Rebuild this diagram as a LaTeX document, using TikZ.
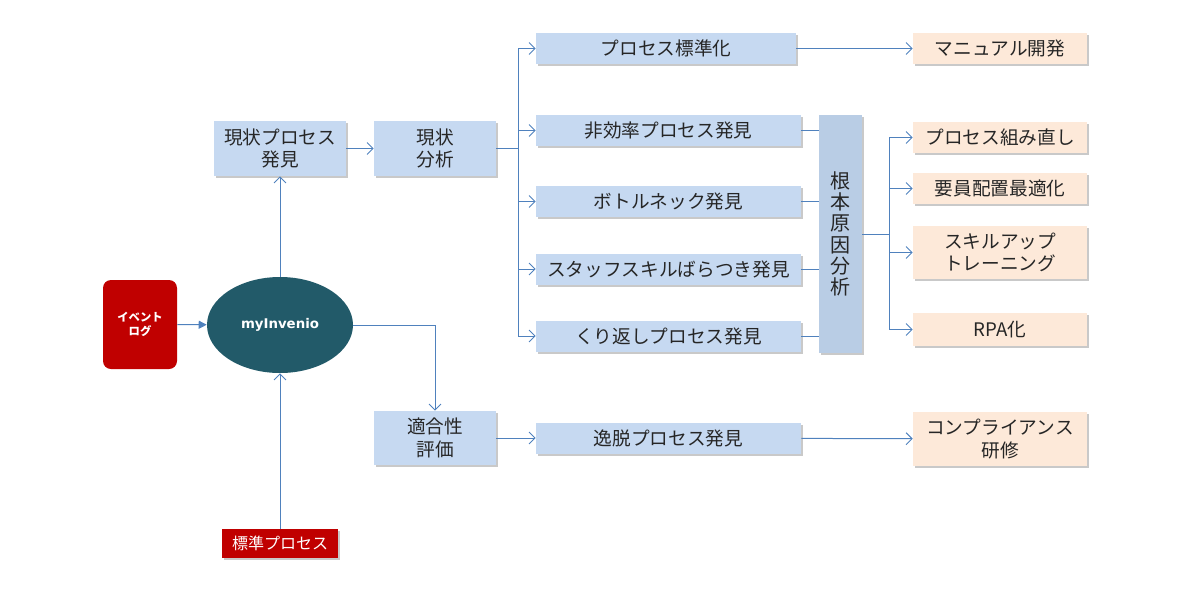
\documentclass[tikz,border=0pt]{standalone}
\usepackage{fontspec}
\setmainfont{Noto Sans CJK JP}
\newfontfamily\latinfont{DejaVu Sans}
\usepackage{xcolor}
\usetikzlibrary{arrows.meta,shadows,shapes.geometric}

\definecolor{boxblue}{HTML}{C6D9F1}
\definecolor{rootblue}{HTML}{B9CDE5}
\definecolor{boxpeach}{HTML}{FDE9D9}
\definecolor{linkblue}{HTML}{4F81BD}
\definecolor{logred}{HTML}{C00000}
\definecolor{engteal}{HTML}{225A69}

\tikzset{
  card/.style={inner sep=0pt, align=center, text=black!85,
    font=\fontsize{14pt}{17pt}\selectfont,
    drop shadow={shadow xshift=1.8pt, shadow yshift=-1.8pt, opacity=0.3, fill=black!70}},
  bluecard/.style={card, fill=boxblue},
  peachcard/.style={card, fill=boxpeach},
  link/.style={draw=linkblue, line width=0.75pt,
    -{Straight Barb[length=4.5pt, width=9pt, line width=0.75pt]}},
  wire/.style={draw=linkblue, line width=0.75pt},
}

\begin{document}
\begin{tikzpicture}[x=0.75pt, y=-0.75pt]
  \useasboundingbox (0,0) rectangle (1200,600);

  % --- sources and engine ------------------------------------------------
  \node[fill=logred, rounded corners=6pt, minimum width=55.5pt, minimum height=66.75pt,
        inner sep=0pt, align=center, text=white,
        font=\fontsize{8.5pt}{11pt}\selectfont\bfseries] (evlog) at (140,324.5) {イベント\\ログ};
  \node[ellipse, fill=engteal, minimum width=109.5pt, minimum height=72pt, inner sep=0pt,
        text=white, font=\latinfont\fontsize{10pt}{12pt}\selectfont\bfseries] (engine) at (280,325) {myInvenio};
  \node[card, fill=logred, text=white, minimum width=87pt, minimum height=21.75pt,
        font=\fontsize{12pt}{14pt}\selectfont] (stdproc) at (280,543.5) {標準プロセス};

  % --- analysis steps ---------------------------------------------------
  \node[bluecard, minimum width=99pt, minimum height=41.25pt] (discover) at (280,148.5) {現状プロセス\\発見};
  \node[bluecard, minimum width=91.5pt, minimum height=41.25pt] (asis) at (435,148.5) {現状\\分析};
  \node[bluecard, minimum width=91.5pt, minimum height=40.5pt] (conform) at (435,438) {適合性\\評価};

  % --- findings column --------------------------------------------------
  \node[bluecard, minimum width=195pt, minimum height=23.25pt] (standard) at (666,48.5) {プロセス標準化};
  \node[bluecard, minimum width=198.75pt, minimum height=23.25pt] (ineff) at (668.5,130.5) {非効率プロセス発見};
  \node[bluecard, minimum width=198.75pt, minimum height=23.25pt] (bneck) at (668.5,201.5) {ボトルネック発見};
  \node[bluecard, minimum width=198.75pt, minimum height=23.25pt] (skillvar) at (668.5,269) {スタッフスキルばらつき発見};
  \node[bluecard, minimum width=198.75pt, minimum height=23.25pt] (repeat) at (668.5,336) {くり返しプロセス発見};
  \node[bluecard, minimum width=198.75pt, minimum height=23.25pt] (deviate) at (668.5,438) {逸脱プロセス発見};

  \node[card, fill=rootblue, minimum width=32.25pt, minimum height=178.5pt,
        font=\fontsize{15pt}{16pt}\selectfont] (rootcause) at (840.5,234) {根\\本\\原\\因\\分\\析};

  % --- actions column ---------------------------------------------------
  \node[peachcard, minimum width=130.5pt, minimum height=23.25pt] (manual) at (1000,48.5) {マニュアル開発};
  \node[peachcard, minimum width=130.5pt, minimum height=23.25pt] (rebuild) at (1000,137.5) {プロセス組み直し};
  \node[peachcard, minimum width=130.5pt, minimum height=23.25pt] (staffing) at (1000,188.5) {要員配置最適化};
  \node[peachcard, minimum width=130.5pt, minimum height=39.75pt] (training) at (1000,252.5) {スキルアップ\\トレーニング};
  \node[peachcard, minimum width=130.5pt, minimum height=24.75pt] (rpa) at (1000,329.5) {RPA化};
  \node[peachcard, minimum width=130.5pt, minimum height=40.5pt] (compliance) at (1000,439) {コンプライアンス\\研修};

  % --- connectors -------------------------------------------------------
  \draw[wire, -{Triangle[length=6pt, width=6pt]}] (evlog) -- (engine);
  \draw[link] (engine) -- (discover);
  \draw[link] (stdproc) -- (engine);
  \draw[link] (engine.east) -| (conform.north);
  \draw[link] (discover) -- (asis);
  \draw[link] (conform) -- (deviate);
  \draw[link] (deviate) -- (compliance);
  \draw[link] (standard) -- (manual);

  \coordinate (busA) at (518,148.5);
  \draw[wire] (asis.east) -- (busA);
  \draw[wire] (busA |- standard.west) -- (busA |- repeat.west);
  \foreach \target in {standard,ineff,bneck,skillvar,repeat}
    \draw[link] (busA |- \target.west) -- (\target.west);

  \foreach \source in {ineff,bneck,skillvar,repeat}
    \draw[wire] (\source.east) -- (\source.east -| rootcause.west);

  \coordinate (busB) at (889,234);
  \draw[wire] (rootcause.east) -- (busB);
  \draw[wire] (busB |- rebuild.west) -- (busB |- rpa.west);
  \foreach \target in {rebuild,staffing,training,rpa}
    \draw[link] (busB |- \target.west) -- (\target.west);
\end{tikzpicture}
\end{document}
